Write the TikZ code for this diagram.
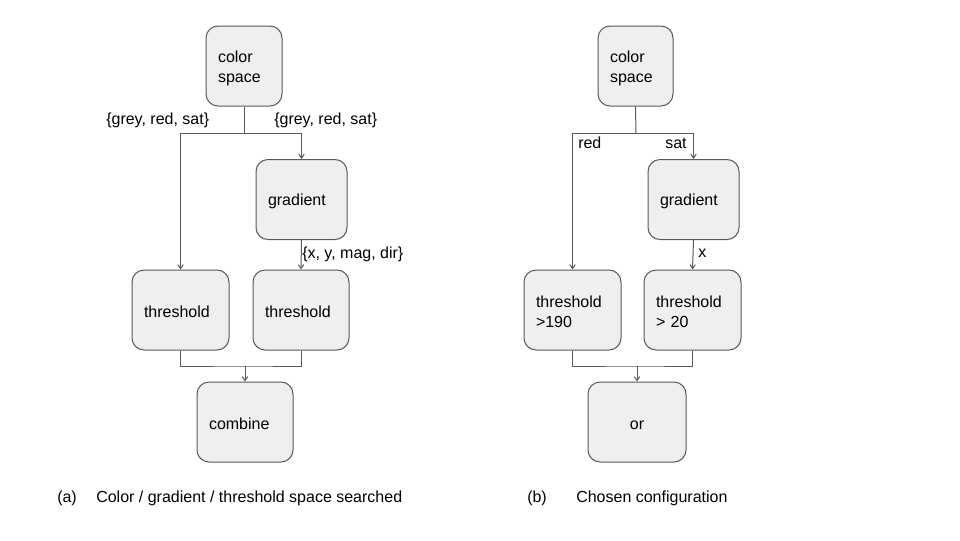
\documentclass[tikz,border=0pt]{standalone}
\usepackage{fontspec}
\setmainfont{Liberation Sans}
\usetikzlibrary{arrows.meta}
\definecolor{shade}{HTML}{EFEFEF}
\definecolor{edge}{HTML}{595959}
\begin{document}
\begin{tikzpicture}[x=0.75pt, y=-0.75pt,
        font=\fontsize{12}{14.5}\selectfont,
        box/.style={rectangle, draw=edge, fill=shade, rounded corners=9pt, line width=0.75pt,
            minimum height=60pt, inner xsep=9pt, text width=#1, align=left,
            font=\fontsize{12}{15}\selectfont, execute at begin node={\rule{0pt}{11.8pt}}},
        wire/.style={draw=edge, line width=0.75pt},
        arr/.style={wire, -{Straight Barb[length=3pt, width=4pt]}},
        lbl/.style={inner sep=0pt, anchor=base west}]
        \useasboundingbox[fill=white] (0,0) rectangle (960,540);

        % (a) searched space
        \node (cs) [box=39pt] at (244,66) {color\\space};
        \node (grad) [box=50.25pt] at (301.5,199.5) {gradient};
        \node (thrL) [box=54.75pt] at (180.5,310) {threshold};
        \node (thrR) [box=54pt] at (301,310) {threshold};
        \node (comb) [box=54pt] at (245,422) {combine};
        \coordinate (split) at (244,133);
        \coordinate (merge) at (245,366);

        \draw [wire] (cs.south) -- (split);
        \draw [arr] (split) -| (thrL.north);
        \draw [arr] (split) -| (grad.north);
        \draw [arr] (grad.south) -- (thrR.north);
        \draw [wire] (thrL.south) |- (merge) -| (thrR.south);
        \draw [arr] (merge) -- (comb.north);

        \node (lcs1) [lbl] at (106,124.5) {\{grey, red, sat\}};
        \node (lcs2) [lbl] at (274,124.5) {\{grey, red, sat\}};
        \node (lgrad) [lbl] at (302,258) {\{x, y, mag, dir\}};
        \node (capa) [lbl] at (57,502) {(a)};
        \node (capatxt) [lbl] at (96,502) {Color / gradient / threshold space searched};

        % (b) chosen configuration
        \node (cs2) [box=38.25pt] at (635.5,66) {color\\space};
        \node (grad2) [box=50.25pt] at (693.5,199.5) {gradient};
        \node (thr2L) [box=54.75pt] at (572.5,310) {threshold\\>190};
        \node (thr2R) [box=54.75pt] at (692.5,310) {threshold\\> 20};
        \node (orop) [box=55.5pt, align=center] at (637,422) {or};
        \coordinate (split2) at (636,133);
        \coordinate (merge2) at (637,366);

        \draw [wire] (cs2.south) -- (split2);
        \draw [arr] (split2) -| (thr2L.north);
        \draw [arr] (split2) -| (grad2.north);
        \draw [arr] (grad2.south) -- (thr2R.north);
        \draw [wire] (thr2L.south) |- (merge2) -| (thr2R.south);
        \draw [arr] (merge2) -- (orop.north);

        \node (lred) [lbl] at (578,148) {red};
        \node (lsat) [lbl] at (665,148) {sat};
        \node (lx) [lbl] at (698,257) {x};
        \node (capb) [lbl] at (527,502) {(b)};
        \node (capbtxt) [lbl] at (576,502) {Chosen configuration};
    \end{tikzpicture}
\end{document}
